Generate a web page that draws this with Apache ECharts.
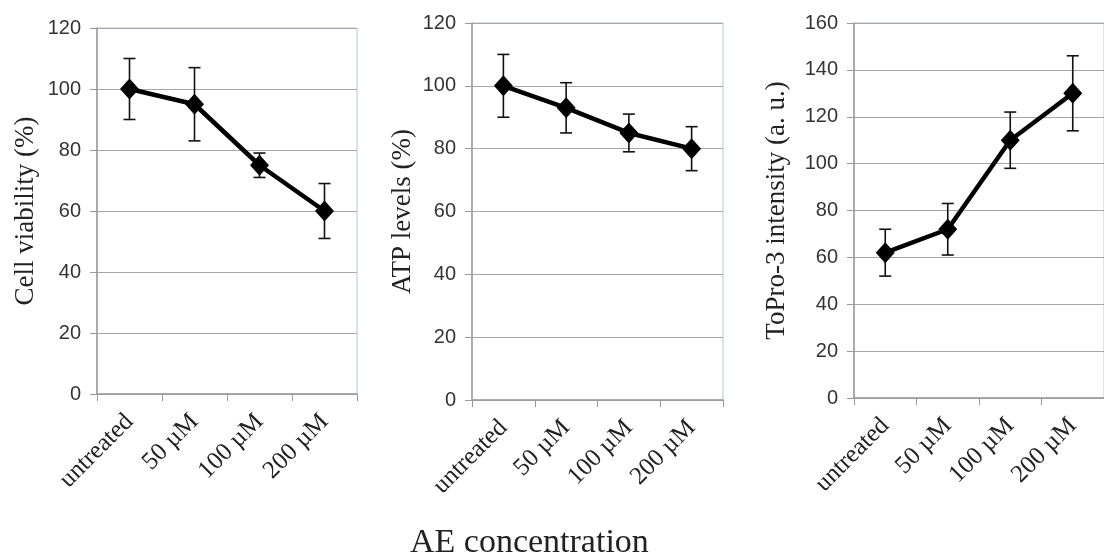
<!DOCTYPE html>
<html>
<head>
<meta charset="utf-8">
<script src="https://cdn.jsdelivr.net/npm/echarts@6/dist/echarts.min.js"></script>
<style>
html,body{margin:0;padding:0;background:#fff;}
#c{width:1104px;height:557px;}
</style>
</head>
<body>
<div id="c"></div>
<script>
const categories = ['untreated', '50 µM', '100 µM', '200 µM'];

const viabilityMean = [100, 95, 75, 60];
const viabilityLow  = [90, 83, 71, 51];
const viabilityHigh = [110, 107, 79, 69];

const atpMean = [100, 93, 85, 80];
const atpLow  = [90, 85, 79, 73];
const atpHigh = [110, 101, 91, 87];

const toproMean = [62, 72, 110, 130];
const toproLow  = [52, 61, 98, 114];
const toproHigh = [72, 83, 122, 146];

const yTitles = ['Cell viability (%)', 'ATP levels (%)', 'ToPro-3 intensity (a. u.)'];
const yMax = [120, 120, 160];
const xTitle = 'AE concentration';

const panels = [
  {mean: viabilityMean, low: viabilityLow, high: viabilityHigh},
  {mean: atpMean, low: atpLow, high: atpHigh},
  {mean: toproMean, low: toproLow, high: toproHigh}
];

const gridBoxes = [
  {left: 97, top: 28, width: 260, height: 366},
  {left: 472, top: 23, width: 251, height: 377},
  {left: 854, top: 23, width: 259, height: 375}
];
const nameGaps = [58, 56, 64];

const serif = '"Liberation Serif", "Times New Roman", serif';
const sans = '"Liberation Sans", Arial, sans-serif';

const grids = [], xAxes = [], yAxes = [], series = [];
panels.forEach((p, i) => {
  grids.push(Object.assign({show: true, borderColor: '#b4c4d6', borderWidth: 1, backgroundColor: 'transparent'}, gridBoxes[i]));
  xAxes.push({
    type: 'category', gridIndex: i, data: categories, boundaryGap: true,
    axisLine: {lineStyle: {color: '#9a9a9a', width: 1.5}},
    axisTick: {show: true, length: 7, lineStyle: {color: '#9a9a9a'}},
    axisLabel: {rotate: 45, margin: 24, fontFamily: serif, fontSize: 25, color: '#222', interval: 0}
  });
  yAxes.push({
    type: 'value', gridIndex: i, min: 0, max: yMax[i], interval: 20,
    name: yTitles[i], nameLocation: 'middle', nameGap: nameGaps[i],
    nameTextStyle: {fontFamily: serif, fontSize: 27, color: '#222'},
    axisLine: {show: true, lineStyle: {color: '#9a9a9a', width: 1.5}},
    axisTick: {show: true, length: 7, lineStyle: {color: '#9a9a9a'}},
    axisLabel: {margin: 16, fontFamily: sans, fontSize: 20, color: '#333'},
    splitLine: {lineStyle: {color: '#a6a6a6', width: 1.2}}
  });
  const errData = categories.map((c, k) => [k, p.low[k], p.high[k]]);
  series.push({
    type: 'custom', xAxisIndex: i, yAxisIndex: i, z: 1,
    data: errData,
    renderItem: function (params, api) {
      const x = api.value(0);
      const lo = api.coord([x, api.value(1)]);
      const hi = api.coord([x, api.value(2)]);
      const w = 6;
      const st = {stroke: '#111', lineWidth: 1.6};
      return {type: 'group', children: [
        {type: 'line', shape: {x1: lo[0], y1: lo[1], x2: hi[0], y2: hi[1]}, style: st},
        {type: 'line', shape: {x1: lo[0]-w, y1: lo[1], x2: lo[0]+w, y2: lo[1]}, style: st},
        {type: 'line', shape: {x1: hi[0]-w, y1: hi[1], x2: hi[0]+w, y2: hi[1]}, style: st}
      ]};
    }
  });
  series.push({
    type: 'line', xAxisIndex: i, yAxisIndex: i, z: 3,
    data: p.mean,
    symbol: 'diamond', symbolSize: [19, 21],
    lineStyle: {color: '#000', width: 4.5},
    itemStyle: {color: '#000'},
    animation: false
  });
});

const chart = echarts.init(document.getElementById('c'), null, {renderer: 'canvas'});
chart.setOption({
  animation: false,
  backgroundColor: '#fff',
  grid: grids,
  xAxis: xAxes,
  yAxis: yAxes,
  series: series,
  graphic: [{
    type: 'text', left: 410, top: 526,
    style: {text: xTitle, fontFamily: serif, fontSize: 34, fill: '#222'}
  }]
});
</script>
</body>
</html>
